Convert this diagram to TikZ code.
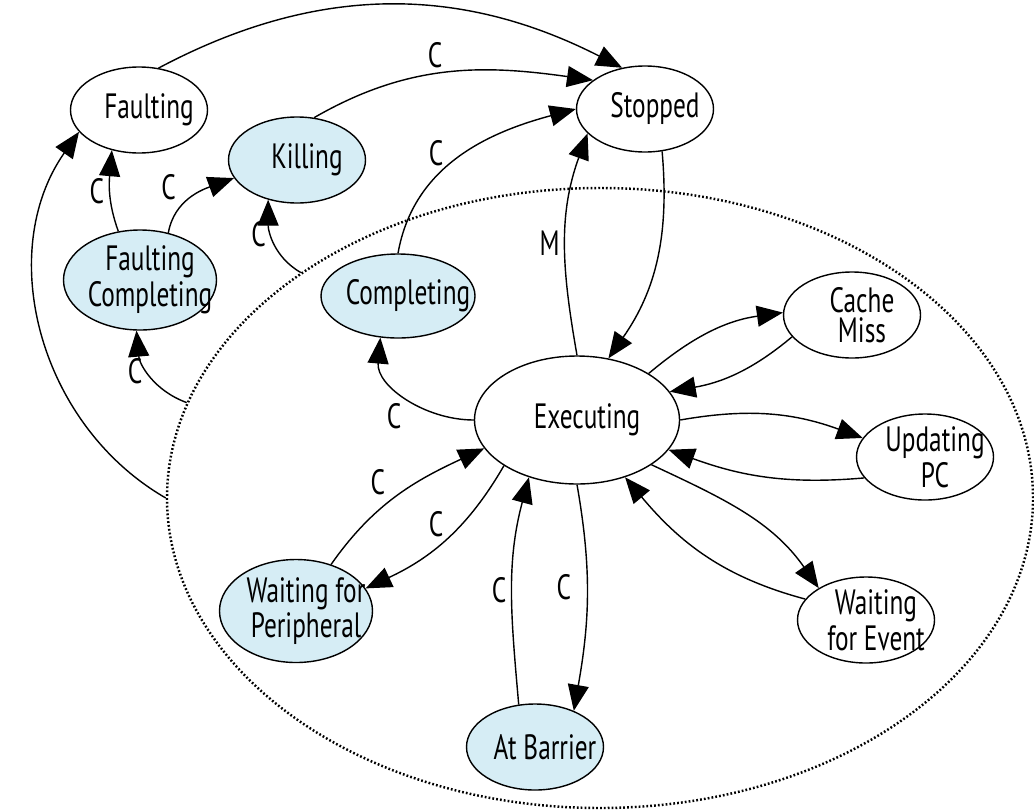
\documentclass[tikz,border=0pt]{standalone}
\usepackage{fontspec}
\setmainfont[FakeStretch=0.72]{PT Sans}
\usetikzlibrary{arrows.meta,shapes.geometric}
\definecolor{busyblue}{RGB}{214,237,245}
\tikzset{
  state/.style={draw,ellipse,line width=0.4pt,inner sep=0pt,
                minimum width=13.7mm,minimum height=8.6mm},
  busy/.style={state,fill=busyblue},
  txt/.style={align=center,xshift=1mm,font=\fontsize{10}{8.4}\selectfont},
  trans/.style={-{Triangle[length=2.6mm,width=2.1mm]},line width=0.4pt},
  tag/.style={font=\fontsize{10}{9}\selectfont,inner sep=1.5pt},
  superstate/.style={draw,ellipse,line width=0.7pt,dash pattern=on 0.5pt off 0.6pt,
                     minimum width=86.6mm,minimum height=62mm},
}

\begin{document}
\begin{tikzpicture}
\useasboundingbox (0,0) rectangle (10.34,-8.11);
% running superstate
\node[superstate] (run) at (6.00,-4.98) {};
% states
\node[state,label={[txt]center:Faulting}] (fault) at (1.39,-1.10) {};
\node[busy,label={[txt]center:Killing}] (kill) at (2.97,-1.60) {};
\node[state,label={[txt]center:Stopped}] (stop) at (6.45,-1.09) {};
\node[busy,minimum width=15.3mm,minimum height=10mm,
      label={[txt]center:Faulting\\Completing}] (fcomp) at (1.40,-2.80) {};
\node[busy,minimum width=15.4mm,minimum height=8.4mm,
      label={[txt]center:Completing}] (comp) at (3.98,-2.96) {};
\node[state,minimum width=20.5mm,minimum height=12.8mm,
      label={[txt]center:Executing}] (exec) at (5.77,-4.20) {};
\node[state,label={[txt]center:Cache\\Miss}] (cache) at (8.52,-3.15) {};
\node[state,label={[txt]center:Updating\\PC}] (upc) at (9.25,-4.57) {};
\node[state,label={[txt]center:Waiting\\for Event}] (wfe) at (8.66,-6.20) {};
\node[busy,minimum width=15.3mm,minimum height=10.3mm,
      label={[txt]center:Waiting for\\Peripheral}] (wfp) at (2.96,-6.11) {};
\node[busy,label={[txt]center:At Barrier}] (bar) at (5.35,-7.47) {};
% into Stopped
\draw[trans] (fault.65) to[out=28,in=153] (stop.119);
\draw[trans] (kill.68) to[out=30,in=172] node[tag,pos=0.45,above] {C} (stop.151);
\draw[trans] (comp.90) to[out=80,in=195] node[tag,pos=0.42,above left,inner sep=0.5pt] {C} (stop.180);
\draw[trans] (exec.90) to[out=100,in=250] node[tag,pos=0.5,left] {M} (stop.203);
\draw[trans] (stop.292) to[out=-85,in=55] (exec.63);
% left column
\draw[trans] (fcomp.114) to[out=110,in=265] node[tag,pos=0.5,left] {C} (fault.236);
\draw[trans] (fcomp.59) to[out=80,in=200] node[tag,pos=0.35,above left] {C} (kill.196);
\draw[trans] (run.143) to[out=150,in=270] node[tag,pos=0.6,left] {C} (kill.234);
\draw[trans] (run.167) to[out=160,in=275] node[tag,pos=0.55,left] {C} (fcomp.266);
\draw[trans] (run.180) to[out=150,in=235] (fault.200);
% around Executing
\draw[trans] (exec.180) to[out=180,in=265] node[tag,pos=0.5,below left] {C} (comp.247);
\draw[trans] (wfp.53) to[out=55,in=205] node[tag,pos=0.45,above left] {C} (exec.197);
\draw[trans] (exec.212) to[out=240,in=25] node[tag,pos=0.5,above left,inner sep=0.5pt] {C} (wfp.18);
\draw[trans] (bar.111) to[out=95,in=255] node[tag,pos=0.5,left] {C} (exec.230);
\draw[trans] (exec.270) to[out=-80,in=80] node[tag,pos=0.45,left,xshift=-1mm] {C} (bar.43);
\draw[trans] (exec.33) to[out=40,in=188] (cache.178);
\draw[trans] (cache.200) to[out=220,in=10] (exec.17);
\draw[trans] (exec.0) to[out=10,in=160] (upc.163);
\draw[trans] (upc.199) to[out=185,in=-20] (exec.342);
\draw[trans] (exec.-31) to[out=-25,in=125] (wfe.146);
\draw[trans] (wfe.161) to[out=165,in=-50] (exec.310);
\end{tikzpicture}
\end{document}
